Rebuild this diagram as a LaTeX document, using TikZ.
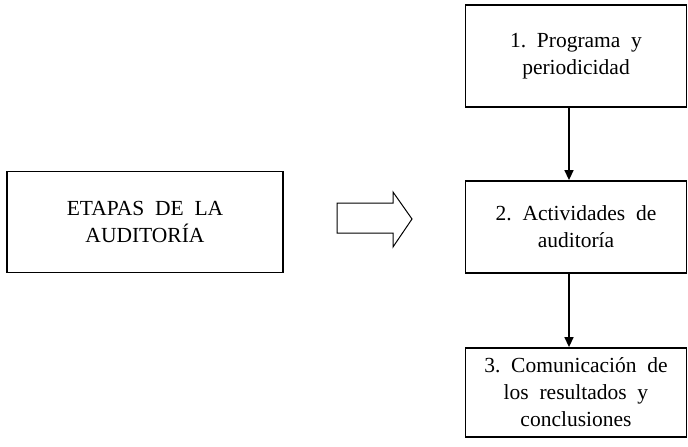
\documentclass[tikz,border=0pt]{standalone}
\usepackage{fontspec}
\setmainfont{Liberation Serif}
\usetikzlibrary{arrows.meta}
\newcommand{\wsp}{\hspace{0.5em}}
\begin{document}
\begin{tikzpicture}[x=1pt,y=-1pt,
  boxstyle/.style={draw, line width=1.8pt, inner sep=0pt, font=\fontsize{21.5}{27}\selectfont, align=center},
  flowarrow/.style={line width=1.4pt, -{Triangle[length=10pt,width=9pt]}}]
\useasboundingbox (0,0) rectangle (688,447);
\node[boxstyle, minimum width=276pt, minimum height=101pt] (etapas) at (145,222) {ETAPAS\wsp DE\wsp LA\\AUDITORÍA};
\node[boxstyle, minimum width=221pt, minimum height=102pt] (b1) at (576,56) {1.\wsp Programa\wsp y\\periodicidad};
\node[boxstyle, minimum width=221pt, minimum height=92pt] (b2) at (576,227) {2.\wsp Actividades\wsp de\\auditoría};
\node[boxstyle, minimum width=221pt, minimum height=89pt] (b3) at (576,392.5) {3.\wsp Comunicación\wsp de\\los\wsp resultados\wsp y\\conclusiones};
\draw[flowarrow] (569,0 |- b1.south) -- (569,0 |- b2.north);
\draw[flowarrow] (569,0 |- b2.south) -- (569,0 |- b3.north);
\draw[line width=1pt, line join=miter] (337,203) -- (393,203) -- (393,192) -- (412,219) -- (393,247) -- (393,233) -- (337,233) -- cycle;
\end{tikzpicture}
\end{document}
